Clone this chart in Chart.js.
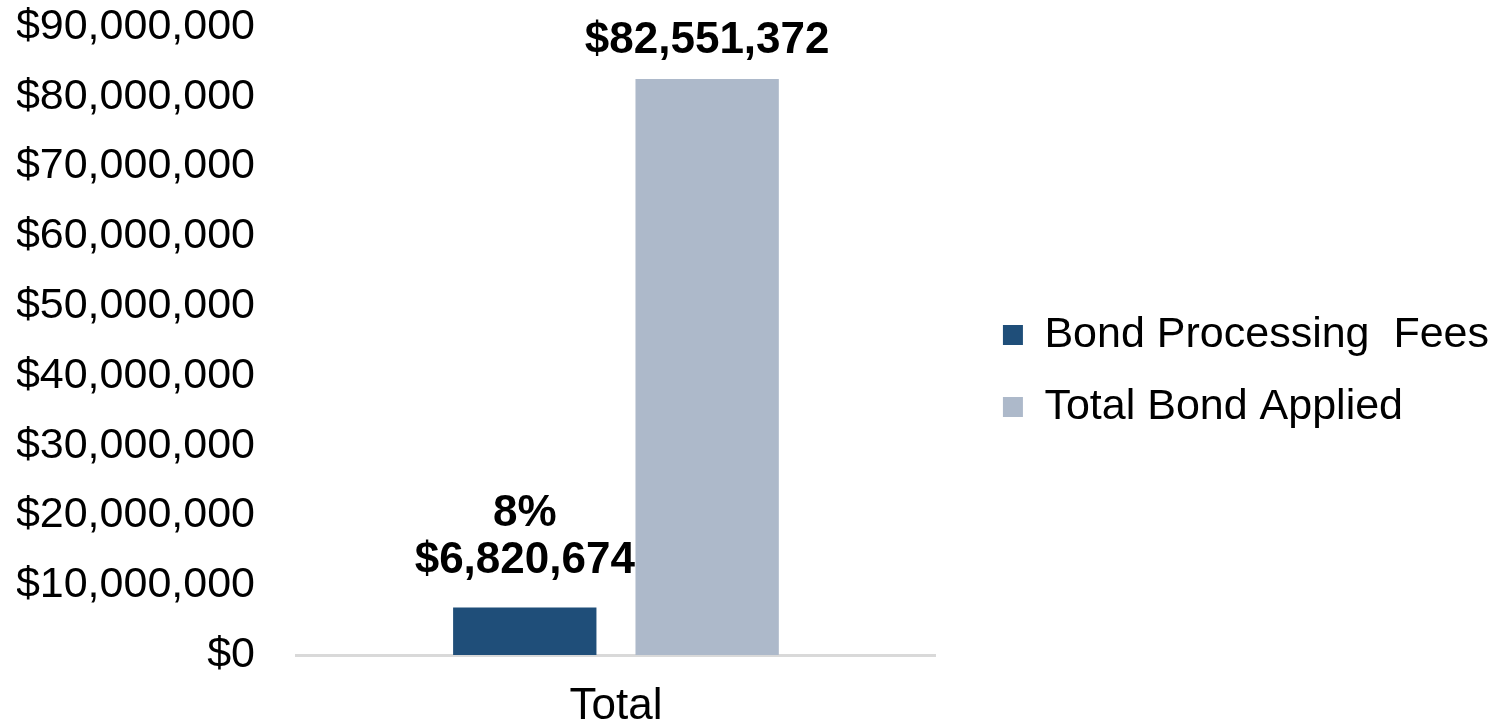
<!DOCTYPE html>
<html>
<head>
<meta charset="utf-8">
<script src="https://cdn.jsdelivr.net/npm/chart.js@4/dist/chart.umd.min.js"></script>
<style>
  html, body { margin: 0; padding: 0; background: #fff; }
  #wrap { width: 1499px; height: 723px; }
</style>
</head>
<body>
<div id="wrap"><canvas id="bondChart"></canvas></div>
<script>
const categories = ['Total'];
const seriesNames = ['Bond Processing  Fees', 'Total Bond Applied'];
const processingFees = [6820674];
const bondApplied = [82551372];
const seriesColors = ['#1f4e79', '#adb9ca'];

const money = v => '$' + Math.round(v).toLocaleString('en-US');
const FONT = '"Liberation Sans", Arial, sans-serif';

// labels above the bars, fee bar also shows its share of the total
const barLabels = {
  id: 'barLabels',
  afterDatasetsDraw(chart) {
    const ctx = chart.ctx;
    ctx.save();
    ctx.font = 'bold 44px ' + FONT;
    ctx.fillStyle = '#000';
    ctx.textAlign = 'center';
    ctx.textBaseline = 'alphabetic';
    chart.data.datasets.forEach((ds, i) => {
      chart.getDatasetMeta(i).data.forEach((bar, j) => {
        let lines = [money(ds.data[j])];
        let y = bar.y - 26;
        if (i === 0) {
          const pct = Math.round(processingFees[j] / bondApplied[j] * 100) + '%';
          lines = [pct, lines[0]];
          y = bar.y - 34;
        }
        for (let k = lines.length - 1; k >= 0; k--) {
          ctx.fillText(lines[k], bar.x, y);
          y -= 47;
        }
      });
    });
    ctx.restore();
  }
};

new Chart(document.getElementById('bondChart'), {
  type: 'bar',
  data: {
    labels: categories,
    datasets: [
      { label: seriesNames[0], data: processingFees, backgroundColor: seriesColors[0] },
      { label: seriesNames[1], data: bondApplied, backgroundColor: seriesColors[1] }
    ]
  },
  options: {
    responsive: true,
    maintainAspectRatio: false,
    animation: false,
    categoryPercentage: 0.57,
    barPercentage: 0.786,
    layout: { padding: { top: -17, right: 0, left: 17, bottom: -36 } },
    plugins: {
      tooltip: { enabled: false },
      legend: {
        position: 'right',
        align: 'center',
        maxWidth: 700,
        labels: {
          boxWidth: 20,
          boxHeight: 20,
          padding: 29,
          color: '#000',
          font: { family: FONT, size: 43 }
        }
      }
    },
    scales: {
      x: {
        grid: { display: false, drawTicks: false },
        border: { display: true, color: '#d9d9d9', width: 3 },
        ticks: { color: '#000', padding: 30, font: { family: FONT, size: 44, lineHeight: 1 } }
      },
      y: {
        min: 0,
        max: 90000000,
        grid: { display: false, drawTicks: false },
        border: { display: false },
        ticks: {
          stepSize: 10000000,
          padding: 41,
          color: '#000',
          font: { family: FONT, size: 43, lineHeight: 1 },
          callback: v => money(v)
        },
        afterFit: s => {
          s.width = 279;
          s.paddingTop = 27;
          s.paddingBottom = 0;
        }
      },
      // empty right axis, only keeps a gap between plot and legend
      gap: {
        type: 'linear',
        position: 'right',
        grid: { display: false, drawTicks: false },
        border: { display: false },
        ticks: { display: false },
        afterFit: s => { s.width = 38; }
      }
    }
  },
  plugins: [barLabels]
});
</script>
</body>
</html>
